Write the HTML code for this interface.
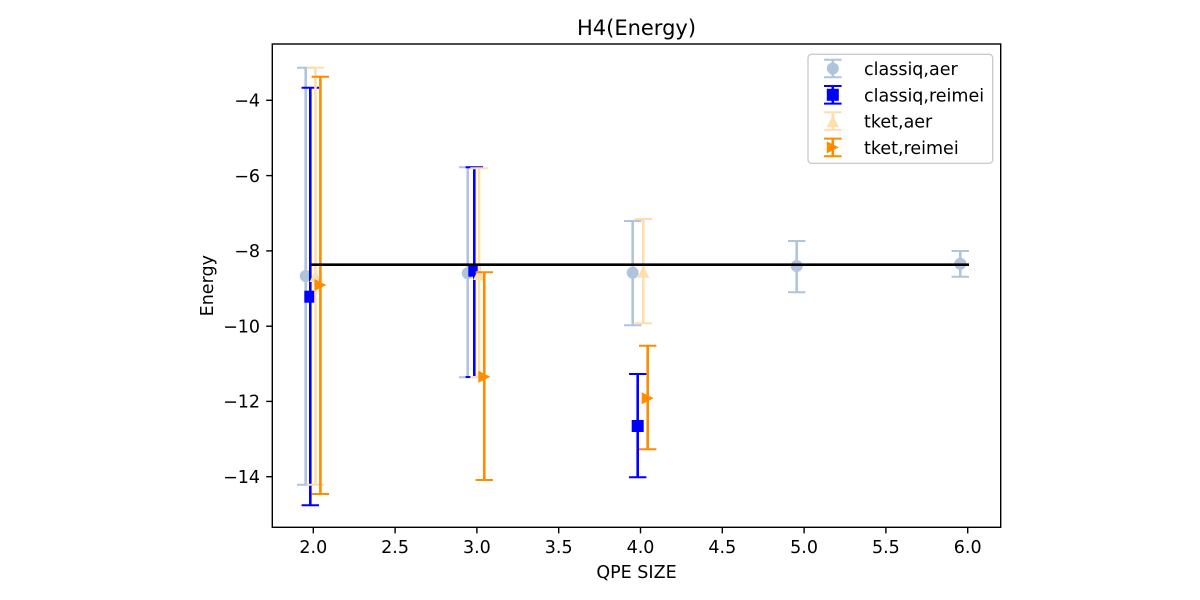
<!DOCTYPE html>
<html>
<head>
<meta charset="utf-8">
<style>
html,body{margin:0;padding:0;background:#fff;}
svg{display:block;}
text{font-family:"DejaVu Sans","Liberation Sans",sans-serif;fill:#000;}
</style>
</head>
<body>
<svg width="1200" height="600" viewBox="0 0 1200 600" xmlns="http://www.w3.org/2000/svg">
<rect width="1200" height="600" fill="#fff"/>

<!-- title -->
<text x="636.5" y="35" font-size="21" text-anchor="middle">H4(Energy)</text>

<!-- series: classiq,aer -->
<g stroke="#b0c4de" stroke-width="2.6" fill="none">
  <line x1="305.7" y1="67.7" x2="305.7" y2="484.7"/>
  <line x1="467.7" y1="167.3" x2="467.7" y2="377.3"/>
  <line x1="632.7" y1="221" x2="632.7" y2="325.3"/>
  <line x1="796.7" y1="241" x2="796.7" y2="292.3"/>
  <line x1="960.3" y1="251" x2="960.3" y2="276.7"/>
</g>
<g stroke="#b0c4de" stroke-width="2" fill="none">
  <line x1="297" y1="67.7" x2="314.4" y2="67.7"/><line x1="297" y1="484.7" x2="314.4" y2="484.7"/>
  <line x1="459" y1="167.3" x2="476.4" y2="167.3"/><line x1="459" y1="377.3" x2="476.4" y2="377.3"/>
  <line x1="624" y1="221" x2="641.4" y2="221"/><line x1="624" y1="325.3" x2="641.4" y2="325.3"/>
  <line x1="788" y1="241" x2="805.4" y2="241"/><line x1="788" y1="292.3" x2="805.4" y2="292.3"/>
  <line x1="951.6" y1="251" x2="969" y2="251"/><line x1="951.6" y1="276.7" x2="969" y2="276.7"/>
</g>
<g fill="#b0c4de">
  <circle cx="305.7" cy="276" r="6"/>
  <circle cx="467.7" cy="273.3" r="6"/>
  <circle cx="632.7" cy="272.7" r="6"/>
  <circle cx="796.7" cy="266" r="6"/>
  <circle cx="960.3" cy="263.7" r="6"/>
</g>

<!-- series: classiq,reimei -->
<g stroke="#0000ff" stroke-width="2.6" fill="none">
  <line x1="310.3" y1="87.7" x2="310.3" y2="505.3"/>
  <line x1="474.3" y1="167.3" x2="474.3" y2="377"/>
  <line x1="637.7" y1="374" x2="637.7" y2="477.3"/>
</g>
<g stroke="#0000ff" stroke-width="2" fill="none">
  <line x1="301.6" y1="87.7" x2="319" y2="87.7"/><line x1="301.6" y1="505.3" x2="319" y2="505.3"/>
  <line x1="465.6" y1="167.3" x2="483" y2="167.3"/><line x1="465.6" y1="377" x2="483" y2="377"/>
  <line x1="629" y1="374" x2="646.4" y2="374"/><line x1="629" y1="477.3" x2="646.4" y2="477.3"/>
</g>
<g fill="#0000ff">
  <rect x="304.3" y="290.7" width="12" height="12"/>
  <rect x="468.3" y="264.7" width="12" height="12"/>
  <rect x="631.7" y="420" width="12" height="12"/>
</g>

<!-- series: tket,aer -->
<g stroke="#ffdead" stroke-width="2.6" fill="none">
  <line x1="315.5" y1="67.7" x2="315.5" y2="484.7"/>
  <line x1="479" y1="168.3" x2="479" y2="377"/>
  <line x1="643.3" y1="219" x2="643.3" y2="323.3"/>
</g>
<g stroke="#ffdead" stroke-width="2" fill="none">
  <line x1="306.8" y1="67.7" x2="324.2" y2="67.7"/><line x1="306.8" y1="484.7" x2="324.2" y2="484.7"/>
  <line x1="470.3" y1="168.3" x2="487.7" y2="168.3"/><line x1="470.3" y1="377" x2="487.7" y2="377"/>
  <line x1="634.6" y1="219" x2="652" y2="219"/><line x1="634.6" y1="323.3" x2="652" y2="323.3"/>
</g>
<g fill="#ffdead">
  <polygon points="315.5,270 321.5,282 309.5,282"/>
  <polygon points="479,268 485,280 473,280"/>
  <polygon points="643.3,265.7 649.3,277.7 637.3,277.7"/>
</g>

<!-- series: tket,reimei -->
<g stroke="#ff8c00" stroke-width="2.6" fill="none">
  <line x1="320.4" y1="76.7" x2="320.4" y2="494"/>
  <line x1="484.3" y1="272.3" x2="484.3" y2="480"/>
  <line x1="647.7" y1="345.7" x2="647.7" y2="449.3"/>
</g>
<g stroke="#ff8c00" stroke-width="2" fill="none">
  <line x1="311.7" y1="76.7" x2="329.1" y2="76.7"/><line x1="311.7" y1="494" x2="329.1" y2="494"/>
  <line x1="475.6" y1="272.3" x2="493" y2="272.3"/><line x1="475.6" y1="480" x2="493" y2="480"/>
  <line x1="639" y1="345.7" x2="656.4" y2="345.7"/><line x1="639" y1="449.3" x2="656.4" y2="449.3"/>
</g>
<g fill="#ff8c00">
  <polygon points="326.4,285 314.4,279 314.4,291"/>
  <polygon points="490.3,376.7 478.3,370.7 478.3,382.7"/>
  <polygon points="653.7,398.3 641.7,392.3 641.7,404.3"/>
</g>

<!-- reference line -->
<line x1="311" y1="264.7" x2="969" y2="264.7" stroke="#000" stroke-width="2.6"/>

<!-- axes frame -->
<rect x="272.3" y="44" width="728.4" height="483.3" fill="none" stroke="#000" stroke-width="1.4"/>

<!-- x ticks -->
<g stroke="#000" stroke-width="1.4">
  <line x1="313.3" y1="527.3" x2="313.3" y2="533.4"/>
  <line x1="395.1" y1="527.3" x2="395.1" y2="533.4"/>
  <line x1="476.9" y1="527.3" x2="476.9" y2="533.4"/>
  <line x1="558.7" y1="527.3" x2="558.7" y2="533.4"/>
  <line x1="640.5" y1="527.3" x2="640.5" y2="533.4"/>
  <line x1="722.3" y1="527.3" x2="722.3" y2="533.4"/>
  <line x1="804.1" y1="527.3" x2="804.1" y2="533.4"/>
  <line x1="885.9" y1="527.3" x2="885.9" y2="533.4"/>
  <line x1="967.7" y1="527.3" x2="967.7" y2="533.4"/>
</g>
<g font-size="17.5" text-anchor="middle">
  <text x="313.3" y="553">2.0</text>
  <text x="395.1" y="553">2.5</text>
  <text x="476.9" y="553">3.0</text>
  <text x="558.7" y="553">3.5</text>
  <text x="640.5" y="553">4.0</text>
  <text x="722.3" y="553">4.5</text>
  <text x="804.1" y="553">5.0</text>
  <text x="885.9" y="553">5.5</text>
  <text x="967.7" y="553">6.0</text>
</g>
<text x="636.5" y="578" font-size="17.5" text-anchor="middle">QPE SIZE</text>

<!-- y ticks -->
<g stroke="#000" stroke-width="1.4">
  <line x1="266.2" y1="100.3" x2="272.3" y2="100.3"/>
  <line x1="266.2" y1="175.6" x2="272.3" y2="175.6"/>
  <line x1="266.2" y1="250.9" x2="272.3" y2="250.9"/>
  <line x1="266.2" y1="326.2" x2="272.3" y2="326.2"/>
  <line x1="266.2" y1="401.4" x2="272.3" y2="401.4"/>
  <line x1="266.2" y1="476.7" x2="272.3" y2="476.7"/>
</g>
<g font-size="17.5" text-anchor="end">
  <text x="260" y="106.6">−4</text>
  <text x="260" y="181.9">−6</text>
  <text x="260" y="257.2">−8</text>
  <text x="260" y="332.5">−10</text>
  <text x="260" y="407.7">−12</text>
  <text x="260" y="483">−14</text>
</g>
<text transform="translate(213,285.7) rotate(-90)" font-size="17.5" text-anchor="middle">Energy</text>

<!-- legend -->
<rect x="808" y="54.3" width="184.7" height="109" rx="3.5" ry="3.5" fill="#fff" fill-opacity="0.8" stroke="#cccccc" stroke-width="1.4"/>
<!-- row 1 -->
<g stroke="#b0c4de">
  <line x1="832.8" y1="59.7" x2="832.8" y2="77.3" stroke-width="2.6"/>
  <line x1="824" y1="59.7" x2="841.6" y2="59.7" stroke-width="2"/>
  <line x1="824" y1="77.3" x2="841.6" y2="77.3" stroke-width="2"/>
</g>
<circle cx="832.8" cy="68.5" r="6" fill="#b0c4de"/>
<!-- row 2 -->
<g stroke="#0000ff">
  <line x1="832.8" y1="86" x2="832.8" y2="103.6" stroke-width="2.6"/>
  <line x1="824" y1="86" x2="841.6" y2="86" stroke-width="2"/>
  <line x1="824" y1="103.6" x2="841.6" y2="103.6" stroke-width="2"/>
</g>
<rect x="826.8" y="88.8" width="12" height="12" fill="#0000ff"/>
<!-- row 3 -->
<g stroke="#ffdead">
  <line x1="832.8" y1="112.3" x2="832.8" y2="129.9" stroke-width="2.6"/>
  <line x1="824" y1="112.3" x2="841.6" y2="112.3" stroke-width="2"/>
  <line x1="824" y1="129.9" x2="841.6" y2="129.9" stroke-width="2"/>
</g>
<polygon points="832.8,115.1 838.8,127.1 826.8,127.1" fill="#ffdead"/>
<!-- row 4 -->
<g stroke="#ff8c00">
  <line x1="832.8" y1="138.6" x2="832.8" y2="156.2" stroke-width="2.6"/>
  <line x1="824" y1="138.6" x2="841.6" y2="138.6" stroke-width="2"/>
  <line x1="824" y1="156.2" x2="841.6" y2="156.2" stroke-width="2"/>
</g>
<polygon points="838.8,147.4 826.8,141.4 826.8,153.4" fill="#ff8c00"/>

<g font-size="17.5">
  <text x="864" y="75">classiq,aer</text>
  <text x="864" y="101.3">classiq,reimei</text>
  <text x="864" y="127.6">tket,aer</text>
  <text x="864" y="153.9">tket,reimei</text>
</g>
</svg>
</body>
</html>
